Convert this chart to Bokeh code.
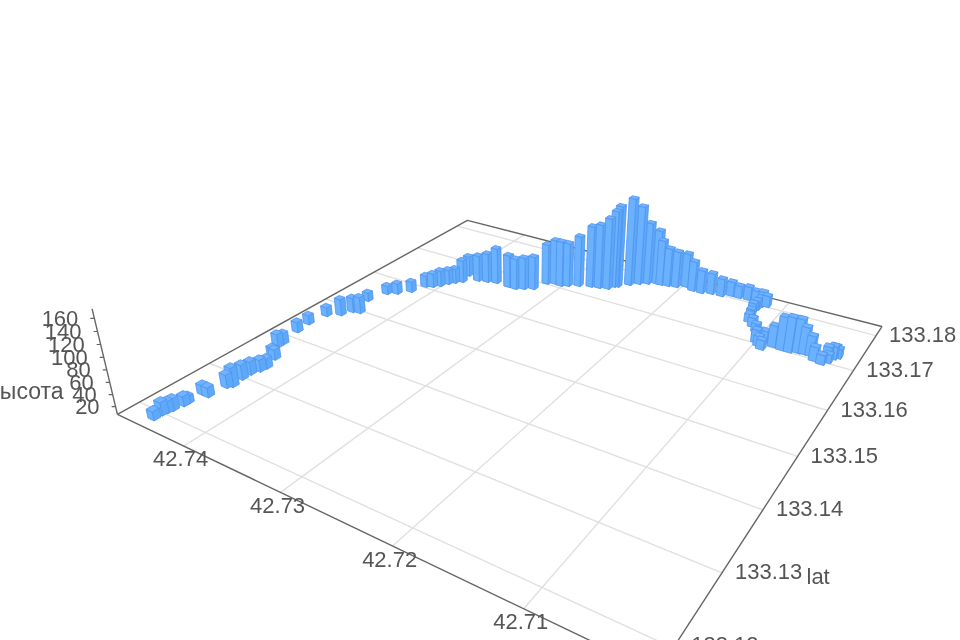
from bokeh.plotting import figure
from bokeh.embed import file_html
from bokeh.resources import INLINE
from bokeh.models import ColumnDataSource
from bokeh.core.properties import value

# ---- data ----
lon = [42.7449,42.7449,42.7448,42.7447,42.7445,42.7445,42.7445,42.7439,42.7437,42.7434,42.7436,42.7436,42.7433,42.7432,42.7437,42.7441,42.7450,42.7450,42.7455,42.7457,42.7454,42.7444,42.7439,42.7432,42.7442,42.7436,42.7428,42.7419,42.7414,
       42.7408,42.7403,42.7399,42.7395,42.7390,42.7393,42.7378,42.7369,42.7360,42.7345,42.7337,42.7330,42.7322,42.7317,42.7310,42.7303,42.7297,42.7288,42.7277,42.7269,42.7261,42.7258,42.7255,42.7247,42.7240,42.7233,42.7225,42.7221,42.7214,
       42.7206,42.7198,42.7189,42.7180,42.7171,42.7161,42.7153,42.7145,42.7136,42.7128,42.7122,42.7116,42.7121,42.7123,42.7119,42.7107,42.7096,42.7094,42.7085,42.7077,42.7070,42.7063,42.7058,42.7052,42.7047,42.7040,42.7038,42.7034,42.7034,
       42.7122,42.7121,42.7113,42.7102,42.7092,42.7100,42.7036,42.7031]
lat = [133.1189,133.1200,133.1206,133.1212,133.1225,133.1230,133.1252,133.1252,133.1277,133.1282,133.1299,133.1312,133.1323,133.1332,133.1352,133.1354,133.1375,133.1384,133.1416,133.1439,133.1468,133.1480,133.1495,133.1498,133.1530,133.1560,133.1568,133.1583,133.1606,
       133.1611,133.1619,133.1630,133.1638,133.1646,133.1667,133.1661,133.1665,133.1669,133.1668,133.1668,133.1674,133.1681,133.1705,133.1711,133.1710,133.1715,133.1723,133.1730,133.1733,133.1737,133.1747,133.1750,133.1764,133.1774,133.1781,133.1788,133.1788,133.1790,
       133.1793,133.1801,133.1795,133.1795,133.1800,133.1801,133.1809,133.1809,133.1810,133.1810,133.1812,133.1804,133.1800,133.1780,133.1751,133.1731,133.1698,133.1711,133.1706,133.1704,133.1704,133.1708,133.1709,133.1709,133.1700,133.1697,133.1713,133.1717,133.1726,
       133.1790,133.1765,133.1741,133.1715,133.1692,133.1705,133.1705,133.1722]
height = [22,29,26,27,24,20,24,24,30,40,33,30,28,25,25,25,31,27,26,24,24,37,34,37,23,23,27,27,29,
          33,37,35,35,49,45,56,62,74,68,65,67,69,83,91,92,89,102,122,127,140,150,159,170,154,123,109,92,79,
          75,71,63,50,46,40,34,30,32,28,28,28,24,24,22,22,25,28,45,66,69,67,55,43,32,24,29,30,24,
          24,22,24,24,24,30,22,24]
lon_ticks = [42.74,42.73,42.72,42.71]
lat_ticks = [133.18,133.17,133.16,133.15,133.14,133.13,133.12]
height_ticks = [20,40,60,80,100,120,140,160]
height_name = "высота"
lat_name = "lat"

# ---- fixed view of the 3D box: plane projection and vertical vanishing point ----
G, H = -0.20315, -0.31671
A11, A12, A13, A21, A22, A23 = 235.03, -387.05, 467.0, 39.77, 62.88, 220.0
LAM, VX, VY, Z0 = -0.0002425, 520.0, 2090.0, 7.27

def uv(x, y):
    return 0.1656 + (42.74 - x) / 0.01 * 0.2158, 0.0424 + (133.18 - y) / 0.01 * 0.1522

def proj(x, y, z=Z0):
    a, b = uv(x, y)
    l = (z - Z0) * LAM
    w = G * a + H * b + 1 + l
    return (A11 * a + A12 * b + A13 + l * VX) / w, (A21 * a + A22 * b + A23 + l * VY) / w

def depth(x, y):
    a, b = uv(x, y)
    return G * a + H * b + 1

LON0, LON1, LAT0, LAT1 = 42.7477, 42.7013, 133.1171, 133.1828
HALF_LON, HALF_LAT = 0.00036, 0.00046
FONT = value("Liberation Sans")
TXT = "#555555"
SIZE = "22px"

p = figure(width=960, height=640, x_range=(0, 960), y_range=(640, 0),
           output_backend="svg", toolbar_location=None, min_border=0,
           outline_line_color=None, styles={"position": "fixed", "left": "0", "top": "0"})
p.axis.visible = False
p.grid.visible = False

# grid on the floor
for t in lon_ticks:
    a, b = proj(t, LAT0), proj(t, LAT1)
    p.line([a[0], b[0]], [a[1], b[1]], line_color="#e0e0e0", line_width=1.4)
for t in lat_ticks:
    a, b = proj(LON0, t), proj(LON1, t)
    p.line([a[0], b[0]], [a[1], b[1]], line_color="#e0e0e0", line_width=1.4)

# box edges
corners = [proj(LON0, LAT0), proj(LON0, LAT1), proj(LON1, LAT1), proj(LON1, LAT0), proj(LON0, LAT0)]
p.line([c[0] for c in corners], [c[1] for c in corners], line_color="#666666", line_width=1.4)

# height axis
zb, zt = proj(LON0, LAT0), proj(LON0, LAT0, 174)
p.line([zb[0], zt[0]], [zb[1], zt[1]], line_color="#666666", line_width=1.4)
for t in height_ticks:
    q = proj(LON0, LAT0, t)
    p.line([q[0], q[0] - 4], [q[1], q[1]], line_color="#666666", line_width=1.2)
zq = [proj(LON0, LAT0, t) for t in height_ticks]
p.text([q[0] - 16 for q in zq], [q[1] for q in zq], text=[str(t) for t in height_ticks],
       text_align="right", text_baseline="middle", text_color=TXT, text_font=FONT, text_font_size=SIZE)
p.text([63], [390], text=[height_name], text_align="right", text_baseline="middle",
       text_color=TXT, text_font=FONT, text_font_size="23px")

# lon labels
xq = [proj(t, LAT0) for t in lon_ticks]
p.text([q[0] - 3 for q in xq], [q[1] + 13 for q in xq], text=[f"{t:.2f}" for t in lon_ticks],
       text_align="center", text_baseline="middle", text_color=TXT, text_font=FONT, text_font_size=SIZE)
# lat labels
yq = [proj(LON1, t) for t in lat_ticks]
p.text([q[0] + 13 for q in yq[:-1]], [q[1] - 1 for q in yq[:-1]], text=[f"{t:.2f}" for t in lat_ticks[:-1]],
       text_align="left", text_baseline="middle", text_color=TXT, text_font=FONT, text_font_size=SIZE)
p.text([yq[-1][0] + 18], [yq[-1][1] - 3], text=[f"{lat_ticks[-1]:.2f}"],
       text_align="left", text_baseline="middle", text_color=TXT, text_font=FONT, text_font_size=SIZE)
p.text([806], [576], text=[lat_name], text_align="left", text_baseline="middle",
       text_color=TXT, text_font=FONT, text_font_size="22px")

# bars, far to near
order = sorted(range(len(lon)), key=lambda i: -depth(lon[i], lat[i]))
xs, ys, cols = [], [], []
for i in order:
    x, y, z = lon[i], lat[i], height[i]
    x0, x1 = x + HALF_LON, x - HALF_LON   # x1 side faces the viewer
    y0, y1 = y + HALF_LAT, y - HALF_LAT   # y1 side faces the viewer
    faces = [
        ([(x1, y0, Z0), (x1, y1, Z0), (x1, y1, z), (x1, y0, z)], "#5ea8fa"),
        ([(x0, y1, Z0), (x1, y1, Z0), (x1, y1, z), (x0, y1, z)], "#6ab1ff"),
        ([(x0, y0, z), (x1, y0, z), (x1, y1, z), (x0, y1, z)], "#70b4ff"),
    ]
    for pts, c in faces:
        q = [proj(*t) for t in pts]
        xs.append([a for a, _ in q]); ys.append([b for _, b in q]); cols.append(c)
src = ColumnDataSource(dict(xs=xs, ys=ys, c=cols))
p.patches("xs", "ys", source=src, fill_color="c", line_color="#4f94ee", line_width=0.8)

open("out.html", "w").write(file_html(p, INLINE))
